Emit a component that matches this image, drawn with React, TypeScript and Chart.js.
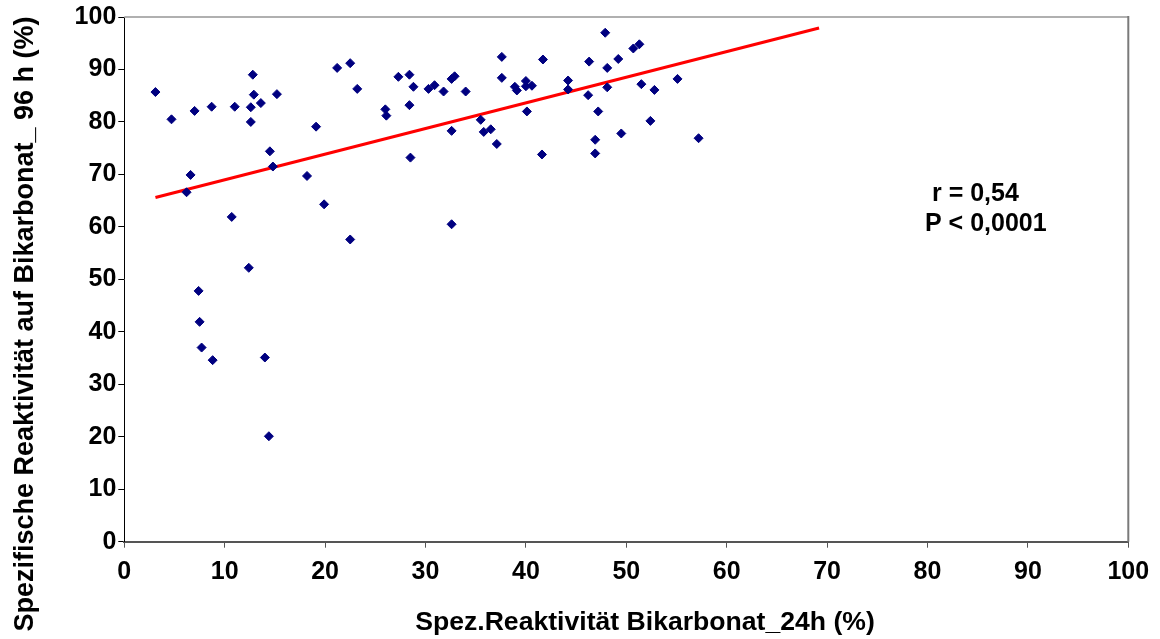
import React, { useEffect, useRef } from "react";
import { Chart, registerables } from "chart.js";

Chart.register(...registerables);

// Spez.Reaktivität Bikarbonat_24h (%)
const xVals = [
  3.1, 4.7, 7.0, 8.7, 11.0, 12.8, 12.9, 12.6, 13.6, 12.6, 15.2, 19.1, 21.2, 22.5, 23.2,
  26.0, 26.1, 27.3, 28.4, 28.8, 28.4, 30.3, 30.9, 14.5, 14.8, 6.6, 6.2, 18.2, 19.9, 28.5,
  10.7, 22.5, 31.8, 32.6, 32.9, 34.0, 32.6, 32.6, 35.5, 35.8, 36.5, 37.1, 37.6, 37.6, 38.9,
  39.1, 40.0, 40.0, 40.6, 40.1, 41.7, 41.6, 44.2, 44.2, 46.3, 46.2, 47.2, 46.9, 46.9, 47.9,
  48.1, 48.1, 49.2, 49.5, 50.7, 51.3, 51.5, 52.8, 52.4, 55.1, 57.2, 12.4, 7.4, 7.5, 7.7,
  8.8, 14.0, 14.4,
];
// Spezifische Reaktivität auf Bikarbonat_ 96 h (%)
const yVals = [
  85.7, 80.5, 82.1, 82.9, 82.9, 89.0, 85.2, 82.8, 83.6, 80.0, 85.3, 79.1, 90.3, 91.2, 86.3,
  82.4, 81.2, 88.6, 89.0, 86.7, 83.2, 86.3, 87.0, 74.4, 71.5, 69.9, 66.6, 69.7, 64.3, 73.2,
  61.9, 57.6, 85.8, 88.2, 88.7, 85.8, 78.3, 60.5, 80.4, 78.1, 78.6, 75.8, 92.4, 88.4, 86.7,
  86.0, 87.8, 86.8, 86.9, 82.0, 91.9, 73.8, 87.9, 86.2, 91.5, 85.1, 82.0, 76.6, 74.0, 97.0,
  90.3, 86.6, 92.0, 77.8, 94.0, 94.8, 87.2, 86.1, 80.2, 88.2, 76.9, 52.2, 47.8, 41.9, 37.0,
  34.6, 35.1, 20.1,
];
// Linear trend line end points
const trendX = [3.1, 69.2];
const trendY = [65.6, 97.9];

const axisMin = 0;
const axisMax = 100;
const axisStep = 10;

const xTitle = "Spez.Reaktivität Bikarbonat_24h (%)";
const yTitle = "Spezifische Reaktivität auf Bikarbonat_ 96 h (%)";
const statLines = ["r = 0,54", "P < 0,0001"];

const FONT = "'Liberation Sans', Arial, Helvetica, sans-serif";

export default function App() {
  const ref = useRef<HTMLCanvasElement | null>(null);

  useEffect(() => {
    if (!ref.current) return;

    const overlay = {
      id: "overlay",
      beforeDatasetsDraw(chart: any) {
        const ctx = chart.ctx;
        const a = chart.chartArea;
        ctx.save();
        ctx.strokeStyle = "#b0b0b0";
        ctx.lineWidth = 2;
        ctx.beginPath();
        ctx.moveTo(a.left, a.top);
        ctx.lineTo(a.right, a.top);
        ctx.stroke();
        ctx.strokeStyle = "#7a7a7a";
        ctx.beginPath();
        ctx.moveTo(a.right, a.top - 1);
        ctx.lineTo(a.right, a.bottom);
        ctx.stroke();
        ctx.restore();
      },
      afterDraw(chart: any) {
        const ctx = chart.ctx;
        ctx.save();
        ctx.fillStyle = "#000";
        ctx.textAlign = "center";
        ctx.textBaseline = "alphabetic";
        ctx.font = `bold 26.6px ${FONT}`;
        ctx.fillText(xTitle, 645, 630);
        ctx.font = `bold 27px ${FONT}`;
        ctx.translate(33, 324);
        ctx.rotate(-Math.PI / 2);
        ctx.fillText(yTitle, 0, 0);
        ctx.restore();

        ctx.save();
        ctx.fillStyle = "#000";
        ctx.font = `bold 25px ${FONT}`;
        ctx.textAlign = "left";
        ctx.textBaseline = "alphabetic";
        ctx.fillText(statLines[0], 932, 201);
        ctx.fillText(statLines[1], 925, 231);
        ctx.restore();
      },
    };

    const tickFont = { family: FONT, size: 25, weight: "bold" as const };

    const chart = new Chart(ref.current, {
      type: "scatter",
      data: {
        datasets: [
          {
            label: "Werte",
            data: xVals.map((x, i) => ({ x, y: yVals[i] })),
            pointStyle: "rectRot",
            pointRadius: 4.5,
            pointHoverRadius: 4.5,
            backgroundColor: "#000080",
            borderColor: "#000080",
            borderWidth: 1,
          },
          {
            type: "line",
            label: "Trend",
            data: trendX.map((x, i) => ({ x, y: trendY[i] })),
            borderColor: "#ff0000",
            backgroundColor: "#ff0000",
            borderWidth: 3,
            pointRadius: 0,
            fill: false,
            showLine: true,
          } as any,
        ],
      },
      options: {
        animation: false,
        responsive: false,
        maintainAspectRatio: false,
        layout: { padding: { top: 15, right: 31.7, left: 0, bottom: 0 } },
        plugins: {
          legend: { display: false },
          tooltip: { enabled: false },
          title: { display: false },
        },
        scales: {
          x: {
            type: "linear",
            min: axisMin,
            max: axisMax,
            ticks: {
              stepSize: axisStep,
              color: "#000",
              font: tickFont,
              padding: 9,
              maxRotation: 0,
              autoSkip: false,
            },
            grid: {
              drawOnChartArea: false,
              drawTicks: true,
              tickLength: 6,
              color: "#555",
              lineWidth: 1,
            },
            border: { display: true, color: "#555", width: 2 },
            afterFit: (s: any) => {
              s.height = 97.3;
            },
          },
          y: {
            type: "linear",
            min: axisMin,
            max: axisMax,
            ticks: {
              stepSize: axisStep,
              color: "#000",
              font: tickFont,
              padding: 2,
              autoSkip: false,
            },
            grid: {
              drawOnChartArea: false,
              drawTicks: true,
              tickLength: 6,
              color: "#000",
              lineWidth: 1,
            },
            border: { display: true, color: "#000", width: 1 },
            afterFit: (s: any) => {
              s.width = 124.3;
            },
          },
        },
      },
      plugins: [overlay],
    });

    return () => chart.destroy();
  }, []);

  return (
    <div style={{ position: "absolute", left: 0, top: 0, width: 1160, height: 639, background: "#fff" }}>
      <canvas ref={ref} width={1160} height={639} style={{ width: 1160, height: 639, display: "block" }} />
    </div>
  );
}
